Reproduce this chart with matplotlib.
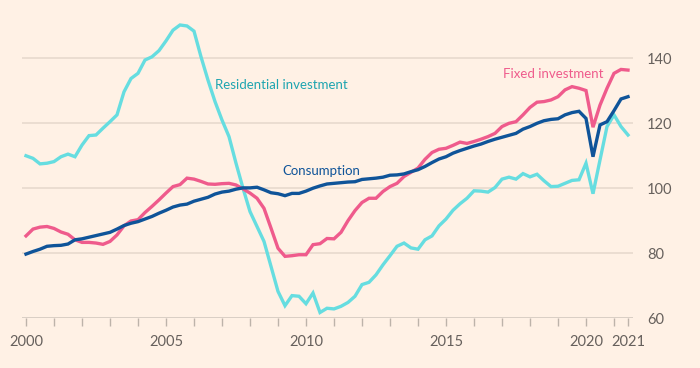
import numpy as np
import matplotlib
matplotlib.use("Agg")
import matplotlib.pyplot as plt

# quarterly index values, 2000 Q1 .. 2021 Q3
start_year = 2000
residential = [110, 109.2, 107.5, 107.7, 108.2, 109.7, 110.5, 109.7, 113.3, 116.2,
               116.4, 118.5, 120.5, 122.6, 129.7, 133.8, 135.4, 139.5, 140.5, 142.4,
               145.4, 148.7, 150.3, 150, 148.4, 140.5, 133.3, 126.7, 121, 115.9,
               107.7, 100, 92.8, 88.2, 83.6, 75.9, 68.2, 63.8, 66.9, 66.7,
               64.4, 67.7, 61.7, 63, 62.8, 63.6, 64.8, 66.7, 70.3, 71,
               73.3, 76.4, 79.2, 82.1, 83.1, 81.6, 81.2, 84.1, 85.3, 88.4,
               90.5, 93.2, 95.2, 96.9, 99.2, 99.1, 98.8, 100.2, 102.8, 103.4,
               102.8, 104.5, 103.5, 104.3, 102.3, 100.5, 100.6, 101.5, 102.4, 102.6,
               107.7, 98.3, 108.7, 119, 122.6, 119, 116.4]
fixed = [85.3, 87.4, 88, 88.2, 87.6, 86.5, 85.8, 84.1, 83.3, 83.3,
         83.1, 82.7, 83.6, 85.6, 88.4, 89.9, 90.3, 92.5, 94.4, 96.4,
         98.5, 100.5, 101.1, 103.1, 102.8, 102.1, 101.3, 101.2, 101.4, 101.5,
         101, 99.8, 98.5, 96.9, 93.8, 87.7, 81.5, 79, 79.2, 79.5,
         79.5, 82.6, 82.9, 84.5, 84.4, 86.4, 90, 93.1, 95.6, 96.9,
         96.9, 99, 100.5, 101.5, 103.6, 104.9, 106.2, 108.9, 111, 112,
         112.3, 113.2, 114.2, 113.8, 114.4, 115.1, 115.9, 116.9, 119, 120,
         120.5, 122.6, 124.9, 126.5, 126.7, 127.2, 128.2, 130.3, 131.3, 130.8,
         130.1, 118.8, 125.6, 130.8, 135.4, 136.6, 136.4]
consumption = [79.7, 80.5, 81.2, 82.1, 82.3, 82.4, 82.8, 84.1, 84.4, 84.9,
               85.4, 85.9, 86.4, 87.4, 88.5, 89.2, 89.7, 90.5, 91.3, 92.3,
               93.2, 94.2, 94.8, 95.1, 96, 96.6, 97.2, 98.2, 98.8, 99.1,
               99.7, 100.1, 100.1, 100.3, 99.5, 98.6, 98.3, 97.7, 98.4, 98.4,
               99.1, 100, 100.7, 101.3, 101.5, 101.7, 101.9, 102, 102.7, 102.9,
               103.1, 103.4, 104, 104.1, 104.4, 105.1, 105.7, 106.7, 107.9, 109,
               109.7, 110.8, 111.6, 112.3, 113, 113.6, 114.4, 115.1, 115.7, 116.3,
               116.9, 118.2, 119, 120, 120.8, 121.2, 121.4, 122.6, 123.3, 123.7,
               121.5, 109.7, 119.5, 120.5, 123.9, 127.5, 128.2]

x = start_year + np.arange(len(consumption)) / 4

yticks = [60, 80, 100, 120, 140]
major_years = [2000, 2005, 2010, 2015, 2020, 2021.5]
major_labels = ["2000", "2005", "2010", "2015", "2020", "2021"]

bg = "#fff1e5"
c_res = "#66dde0"
c_fix = "#ef5b8c"
c_con = "#0f5499"
grey = "#66605c"

plt.rcParams["font.family"] = ["Lato", "DejaVu Sans"]

fig = plt.figure(figsize=(7, 3.68), dpi=100, facecolor=bg)
ax = fig.add_axes([22 / 700, 50 / 368, 611 / 700, 318 / 368], facecolor=bg)

for v in yticks[1:]:
    ax.axhline(v, color="#e6d8cc", lw=1.1, zorder=1)
ax.axhline(60, color="#cfc5bc", lw=1.1, zorder=1)

ax.plot(x, residential, color=c_res, lw=2.4, zorder=3, solid_joinstyle="miter")
ax.plot(x, fixed, color=c_fix, lw=2.4, zorder=4, solid_joinstyle="miter")
ax.plot(x, consumption, color=c_con, lw=2.4, zorder=5, solid_joinstyle="miter")

ax.text(2006.75, 131.7, "Residential investment", color="#1ea5b0",
        fontsize=9.5, va="center", ha="left")
ax.text(2009.15, 105.3, "Consumption", color=c_con,
        fontsize=9.5, va="center", ha="left")
ax.text(2017.05, 135.3, "Fixed investment", color=c_fix,
        fontsize=9.5, va="center", ha="left")

ax.set_xlim(2000 - 4 / 28, 2021.5 + 5 / 28)
ax.set_ylim(60, 158)

ax.yaxis.tick_right()
ax.set_yticks(yticks)
ax.set_yticklabels([str(v) for v in yticks])
ax.tick_params(axis="y", length=0, pad=10, labelsize=10.5, labelcolor=grey)

ax.set_xticks(major_years)
ax.set_xticklabels(major_labels)
ax.set_xticks(list(range(2001, 2022)), minor=True)
ax.tick_params(axis="x", which="both", length=6, width=1, color="#bdb3aa",
               pad=6, labelsize=10.5, labelcolor=grey)

for s in ax.spines.values():
    s.set_visible(False)

fig.savefig("out.png", dpi=100, facecolor=bg)
